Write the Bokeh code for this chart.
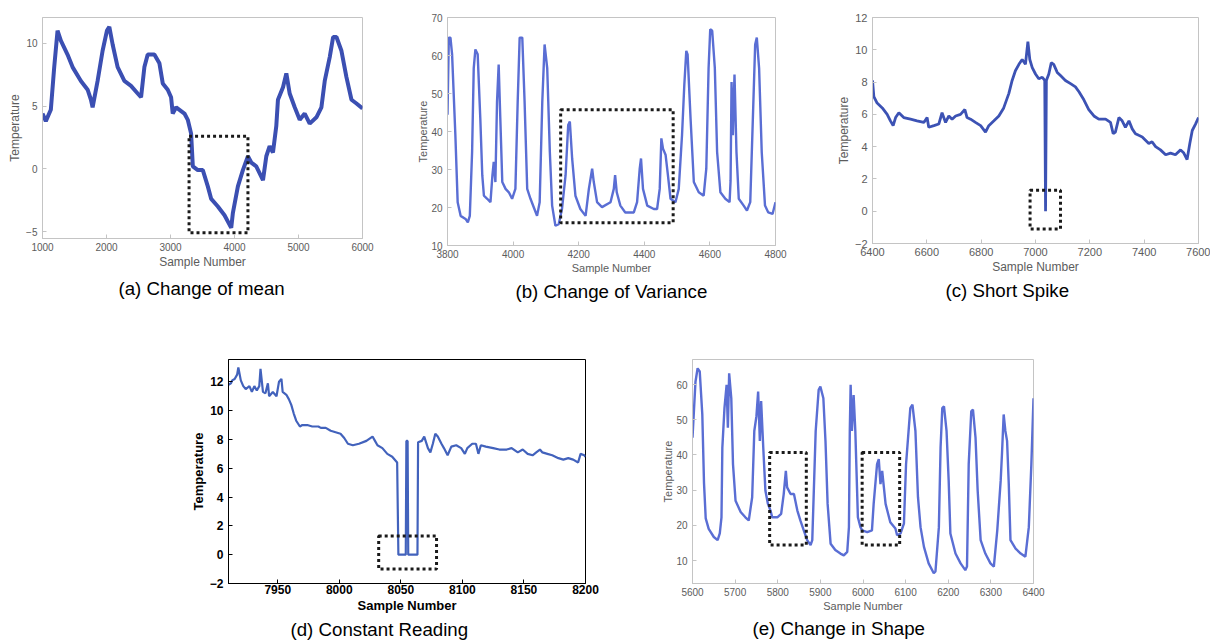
from bokeh.plotting import figure
from bokeh.layouts import column, row
from bokeh.models import Title
from bokeh.embed import file_html
from bokeh.resources import INLINE

FONT = "Liberation Sans"

# ---------------- data ----------------
# (a) Change of mean
A_x = [1000,1052,1130,1183,1235,1287,1391,1470,1600,1705,
       1757,1783,1861,1939,2007,2044,2096,2174,2279,2383,
       2487,2540,2592,2644,2748,2827,2879,2957,3009,3035,
       3088,3140,3218,3270,3322,3349,3427,3505,3583,3636,
       3740,3844,3949,3975,4053,4131,4210,4262,4340,4445,
       4497,4549,4601,4653,4679,4758,4810,4862,4941,5019,
       5097,5175,5280,5358,5410,5488,5541,5593,5671,5749,
       5828,5906,6000]
A_y = [4.4,3.8,4.7,8.1,11.0,10.2,9.1,8.1,7.0,6.3,
       5.5,4.9,7.0,9.4,11.0,11.3,9.9,8.1,7.0,6.6,
       6.0,5.7,8.1,9.1,9.1,8.4,6.8,6.3,5.7,4.4,
       4.9,4.7,4.4,3.9,2.8,0.2,-0.1,-0.1,-1.4,-2.4,
       -3.0,-3.7,-4.7,-3.5,-1.4,-0.1,1.0,0.5,0.2,-0.9,
       1.0,1.8,1.3,3.4,5.5,6.5,7.6,6.0,4.9,3.9,
       4.4,3.6,4.1,4.9,7.0,8.9,10.5,10.5,9.4,7.3,
       5.5,5.2,4.8]
A_box = [3290, 4210, -5.1, 2.6]

# (b) Change of Variance
B_x = [3800,3804,3809,3814,3824,3831,3840,3855,3862,3868,
       3875,3880,3885,3892,3900,3906,3911,3921,3931,3937,
       3941,3946,3951,3956,3961,3967,3977,3987,3997,4007,
       4014,4020,4028,4035,4043,4053,4065,4073,4081,4089,
       4096,4104,4112,4119,4129,4139,4149,4160,4168,4173,
       4180,4190,4205,4221,4231,4241,4246,4256,4271,4297,
       4307,4311,4316,4327,4342,4368,4378,4386,4390,4396,
       4409,4429,4439,4447,4452,4457,4465,4472,4480,4495,
       4505,4515,4522,4528,4532,4541,4551,4566,4581,4589,
       4596,4601,4607,4615,4622,4632,4647,4660,4663,4666,
       4670,4675,4681,4688,4703,4713,4723,4731,4738,4743,
       4750,4758,4768,4778,4791,4800]
B_y = [44.4,64.7,64.7,60.3,39.0,21.4,17.8,17.0,16.1,17.8,
       34.6,56.7,61.6,60.3,43.5,28.5,23.1,22.3,21.4,28.5,
       32.0,26.7,47.9,57.6,43.5,26.7,24.9,24.0,22.3,24.9,
       47.9,64.7,64.7,47.9,24.9,22.3,19.6,17.8,21.4,47.9,
       62.9,56.7,34.6,20.5,15.2,15.6,19.6,28.5,41.7,42.6,
       32.9,23.1,19.6,17.8,24.9,30.2,26.7,21.4,20.1,21.4,
       24.9,28.5,24.0,20.5,18.7,18.7,21.4,30.2,32.9,24.9,
       20.5,19.6,19.6,24.9,38.2,35.5,33.8,28.5,22.3,21.4,
       24.9,39.0,52.3,61.2,60.3,43.5,26.7,24.0,23.1,30.2,
       56.7,66.9,66.5,56.7,34.6,24.0,22.3,21.4,27.0,53.0,
       39.0,55.0,34.6,22.3,20.5,19.2,21.4,43.5,62.9,64.7,
       56.7,34.6,20.5,18.7,18.3,21.4]
B_box = [4145, 4488, 16.0, 45.7]

# (c) Short Spike
C_x = [6400,6405,6417,6436,6454,6466,6476,6485,6497,6515,
       6540,6564,6589,6601,6607,6626,6644,6656,6669,6681,
       6693,6706,6724,6740,6748,6761,6779,6798,6816,6828,
       6847,6865,6883,6902,6914,6926,6939,6951,6963,6972,
       6979,6988,7000,7012,7025,7034,7037,7040,7049,7058,
       7067,7080,7092,7110,7129,7147,7160,7178,7196,7215,
       7233,7258,7276,7286,7294,7307,7319,7331,7344,7356,
       7368,7380,7393,7405,7417,7429,7442,7460,7479,7497,
       7515,7534,7546,7558,7568,7577,7589,7600]
C_y = [8.1,7.1,6.7,6.4,6.0,5.6,5.3,5.8,6.1,5.8,
       5.7,5.6,5.5,5.8,5.2,5.3,5.4,6.1,5.5,5.9,
       5.7,5.9,6.0,6.3,5.8,5.7,5.5,5.3,4.9,5.3,
       5.6,5.9,6.4,7.3,8.1,8.7,9.1,9.4,9.1,10.5,
       9.4,8.9,8.5,8.2,8.3,8.1,0.0,8.1,8.5,9.2,
       9.1,8.6,8.4,8.1,7.9,7.7,7.4,6.9,6.3,5.9,
       5.7,5.7,5.5,4.8,4.9,5.8,5.6,5.2,5.6,5.1,
       4.8,4.7,4.6,4.4,4.2,4.3,4.0,3.8,3.5,3.6,
       3.5,3.8,3.6,3.2,4.2,5.0,5.4,5.8]
C_box = [6980, 7092, -1.1, 1.3]

# (d) Constant Reading
D_x = [7910,7912,7913,7915,7917,7918,7920,7922,7924,7927,
       7929,7931,7933,7935,7936,7938,7940,7942,7943,7946,
       7949,7951,7953,7954,7957,7959,7961,7963,7965,7968,
       7970,7974,7978,7983,7985,7989,7993,7997,8001,8004,
       8007,8011,8016,8022,8027,8029,8031,8035,8039,8043,
       8047,8048,8054,8054.5,8055.5,8056,8063.5,8064,8067,8069,
       8072,8074,8076,8078,8080,8083,8085,8088,8091,8095,
       8099,8102,8104,8108,8111,8113,8115,8119,8125,8130,
       8136,8140,8145,8149,8153,8157,8160,8163,8165,8169,
       8173,8178,8182,8186,8190,8194,8196,8199,8200]
D_y = [11.8,11.9,12.1,12.2,12.5,13.0,12.1,11.7,11.5,11.7,
       11.3,11.7,11.4,11.7,12.9,11.3,11.2,11.9,11.0,11.3,
       11.0,12.0,12.2,11.3,11.1,10.8,10.4,9.8,9.3,8.9,
       9.0,9.0,8.9,8.9,8.8,8.8,8.6,8.5,8.4,8.1,
       7.7,7.6,7.7,7.9,8.2,7.9,7.6,7.4,7.0,6.8,
       6.4,0.0,0.0,7.9,7.9,0.0,0.0,7.8,7.9,8.2,
       7.4,7.1,7.7,8.4,8.2,7.7,7.4,6.9,7.5,7.6,
       7.4,7.0,7.4,7.7,7.7,7.0,7.6,7.5,7.4,7.3,
       7.3,7.4,7.1,7.3,7.0,6.9,7.1,7.3,7.1,7.0,
       6.9,6.7,6.6,6.7,6.6,6.4,7.0,6.9,6.8]
D_box = [8032, 8079, -1.0, 1.3]

# (e) Change in Shape
E_x = [5600,5607,5612,5617,5623,5627,5631,5638,5650,5659,
       5664,5668,5670,5675,5680,5683,5686,5691,5695,5701,
       5713,5724,5732,5740,5745,5750,5754,5758,5761,5766,
       5771,5777,5783,5787,5799,5808,5814,5819,5822,5830,
       5838,5846,5853,5861,5869,5877,5881,5889,5896,5900,
       5907,5912,5917,5924,5935,5947,5955,5963,5967,5969,
       5971,5974,5978,5982,5988,5994,5998,6010,6021,6025,
       6033,6037,6041,6045,6053,6064,6076,6080,6088,6096,
       6101,6111,6116,6123,6129,6135,6143,6154,6166,6170,
       6178,6182,6186,6190,6196,6201,6205,6217,6229,6240,
       6244,6248,6254,6258,6264,6269,6276,6287,6299,6307,
       6315,6323,6326,6330,6334,6338,6342,6346,6358,6370,
       6381,6389,6395,6400]
E_y = [44.9,60.8,64.6,63.7,51.5,32.0,22.0,19.0,16.7,15.8,
       17.7,22.3,42.0,53.3,59.9,47.7,63.2,56.1,37.4,27.0,
       23.8,22.3,21.4,28.0,46.8,51.0,58.0,44.0,55.3,42.1,
       29.9,26.1,24.2,22.3,22.3,23.3,28.9,35.5,30.8,28.9,
       28.9,24.2,21.4,18.6,15.8,14.4,15.8,46.8,58.5,59.4,
       56.1,43.9,26.1,14.8,13.0,12.0,11.5,12.5,19.5,46.8,
       59.9,46.8,57.0,46.8,22.3,19.5,18.6,18.1,18.6,26.1,
       37.4,38.8,31.7,35.5,26.1,20.9,19.1,17.2,17.7,20.5,
       37.4,53.3,54.3,46.8,28.0,19.5,13.9,9.2,6.4,6.9,
       19.5,42.1,53.3,53.8,46.8,32.7,17.7,12.0,9.2,7.3,
       8.3,37.4,52.4,52.9,44.9,29.9,15.8,12.0,9.2,8.3,
       18.6,32.7,40.2,51.5,46.8,44.0,31.7,15.8,13.4,12.0,
       11.1,19.5,37.4,56.1]
E_box_left = [5781, 5998]
E_box_right = [5867, 6086]
E_box_bottom = [14.4, 14.4]
E_box_top = [40.7, 40.7]

# tick positions
A_xt = [1000, 2000, 3000, 4000, 5000, 6000]
A_yt = [-5, 0, 5, 10]
B_xt = [3800, 4000, 4200, 4400, 4600, 4800]
B_yt = [10, 20, 30, 40, 50, 60, 70]
C_xt = [6400, 6600, 6800, 7000, 7200, 7400, 7600]
C_yt = [-2, 0, 2, 4, 6, 8, 10, 12]
D_xt = [7950, 8000, 8050, 8100, 8150, 8200]
D_yt = [-2, 0, 2, 4, 6, 8, 10, 12]
E_xt = [5600, 5700, 5800, 5900, 6000, 6100, 6200, 6300, 6400]
E_yt = [10, 20, 30, 40, 50, 60]

captions = ["(a) Change of mean", "(b) Change of Variance", "(c) Short Spike",
            "(d) Constant Reading", "(e) Change in Shape"]


def make_fig(w, h, bl, br, bt, bb, xr, yr, xt, yt, caption, cap_off, cap_so,
             bold=False, tick_fs="10px", lab_fs="12px", ylab_standoff=6,
             xtick_so=4):
    p = figure(width=w, height=h, x_range=xr, y_range=yr,
               output_backend="svg", toolbar_location=None,
               min_border_left=bl, min_border_right=br,
               min_border_top=bt, min_border_bottom=bb,
               background_fill_color="white", border_fill_color="white")
    p.grid.visible = False
    p.xaxis.ticker = xt
    p.yaxis.ticker = yt
    p.xaxis.axis_label = "Sample Number"
    p.yaxis.axis_label = "Temperature"
    if bold:
        col = "black"
        p.outline_line_color = "black"
        p.outline_line_width = 1
        p.axis.axis_line_color = "black"
        p.axis.major_tick_line_color = "black"
        p.axis.major_label_text_font_style = "bold"
        p.axis.axis_label_text_font_style = "bold"
    else:
        col = "#5c5c5c"
        p.outline_line_color = "#c4c4c4"
        p.axis.axis_line_color = "#c4c4c4"
        p.axis.major_tick_line_color = "#c4c4c4"
        p.axis.major_label_text_font_style = "normal"
        p.axis.axis_label_text_font_style = "normal"
    p.axis.major_tick_in = 4
    p.axis.major_tick_out = 0
    p.axis.minor_tick_line_color = None
    p.axis.major_label_text_color = col
    p.axis.axis_label_text_color = col
    p.axis.major_label_text_font = FONT
    p.axis.axis_label_text_font = FONT
    p.axis.major_label_text_font_size = tick_fs
    p.axis.axis_label_text_font_size = lab_fs
    p.xaxis.major_label_standoff = xtick_so
    p.xaxis.axis_label_standoff = 1
    p.yaxis.major_label_standoff = 5
    p.yaxis.axis_label_standoff = ylab_standoff
    p.add_layout(Title(text=caption, align="left", offset=cap_off,
                       standoff=cap_so,
                       text_font=FONT, text_font_size="18.7px",
                       text_font_style="normal", text_color="black"), "below")
    return p


def box(p, left, right, bottom, top):
    p.quad(left=left, right=right, bottom=bottom, top=top,
           fill_color=None, line_color="#1a1a1a", line_width=3,
           line_dash="3 3")


# (a)
pa = make_fig(380, 308, 42, 18, 17, 70, (1000, 6000), (-5.55, 12.05),
              A_xt, A_yt, captions[0], 76, 9, ylab_standoff=1)
pa.line(A_x, A_y, line_color="#3b4fb2", line_width=4)
box(pa, [A_box[0]], [A_box[1]], [A_box[2]], [A_box[3]])

# (b)
pb = make_fig(440, 315, 67, 45, 17, 70, (3800, 4800), (10, 70),
              B_xt, B_yt, captions[1], 68, 4, lab_fs="11px", ylab_standoff=-1)
pb.line(B_x, B_y, line_color="#5a6ed4", line_width=2.4)
box(pb, [B_box[0]], [B_box[1]], [B_box[2]], [B_box[3]])

# (c)
pc = make_fig(390, 313, 52, 12, 17, 70, (6400, 7600), (-2, 12),
              C_xt, C_yt, captions[2], 73, 3, tick_fs="11px", lab_fs="12px",
              ylab_standoff=1)
pc.line(C_x, C_y, line_color="#3c52b4", line_width=2.8)
box(pc, [C_box[0]], [C_box[1]], [C_box[2]], [C_box[3]])

# (d)
pd_ = make_fig(610, 327, 228, 25, 44, 59, (7910, 8200), (-2, 13.55),
               D_xt, D_yt, captions[3], 62, 3, bold=True,
               tick_fs="12px", lab_fs="13px", ylab_standoff=1, xtick_so=1)
pd_.line(D_x, D_y, line_color="#4262bc", line_width=2.2)
box(pd_, [D_box[0]], [D_box[1]], [D_box[2]], [D_box[3]])

# (e)
pe = make_fig(600, 327, 82, 177, 44, 59, (5600, 6400), (3.5, 67.1),
              E_xt, E_yt, captions[4], 60, 3, lab_fs="11px", ylab_standoff=-1)
pe.line(E_x, E_y, line_color="#5a6ed4", line_width=2.4)
box(pe, E_box_left, E_box_right, E_box_bottom, E_box_top)

layout = column(row(pa, pb, pc), row(pd_, pe))
open("out.html", "w").write(file_html(layout, INLINE))
